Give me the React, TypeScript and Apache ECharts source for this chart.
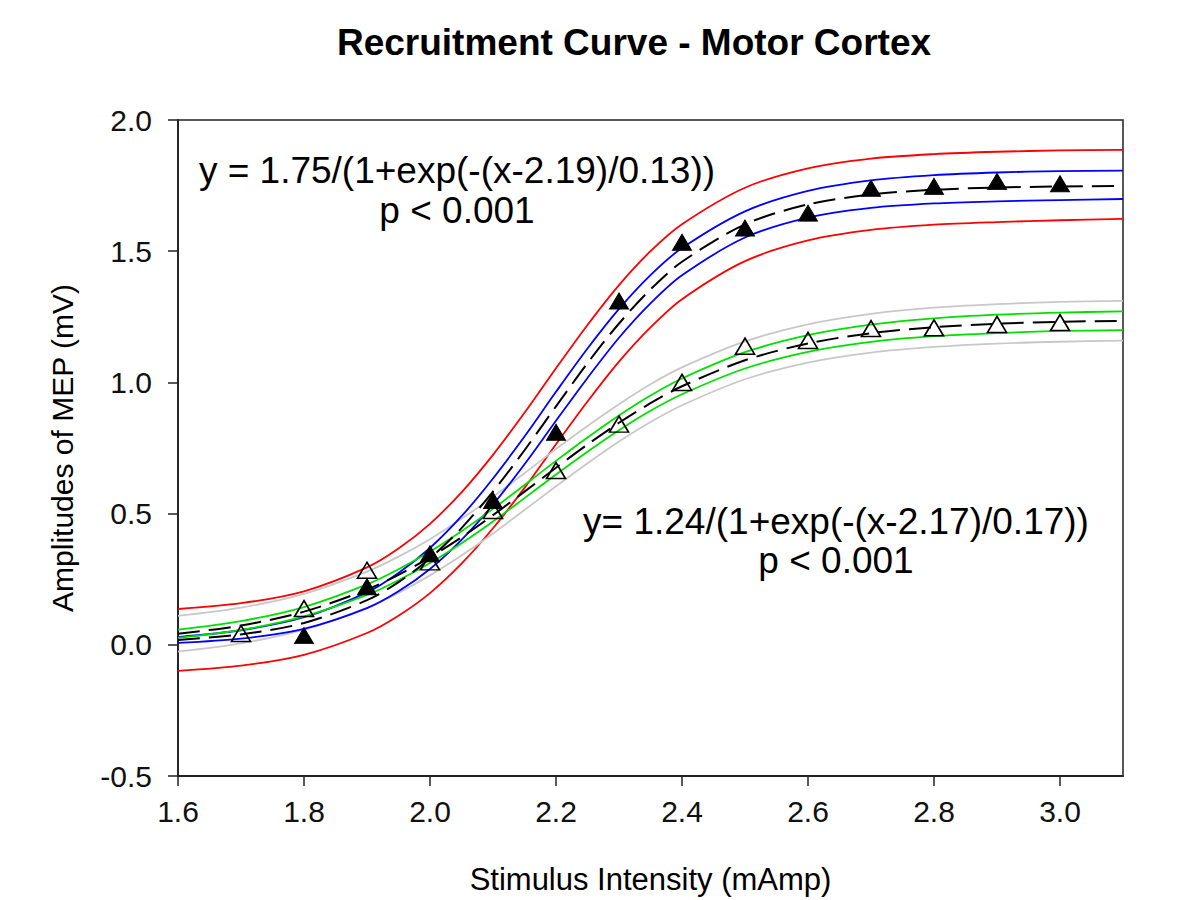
import React, { useEffect, useRef } from "react";
import * as echarts from "echarts";

// Shared x sampling for the fitted curves and their bands
const curveX = [1.6, 1.7, 1.8, 1.9, 1.95, 2.0, 2.05, 2.1, 2.15, 2.2, 2.25, 2.3, 2.35, 2.4, 2.5, 2.6, 2.7, 2.8, 2.9, 3.0, 3.1];

// Fit 1 (filled triangles) and bands
const fit1 = [0.0185, 0.0395, 0.083, 0.170, 0.2386, 0.3294, 0.4447, 0.5841, 0.7414, 0.9086, 1.0734, 1.2245, 1.3545, 1.4597, 1.6024, 1.6784, 1.7161, 1.7341, 1.7426, 1.7466, 1.7484];
const blueUpper = [0.0295, 0.0555, 0.105, 0.200, 0.274, 0.369, 0.490, 0.634, 0.794, 0.964, 1.129, 1.280, 1.409, 1.512, 1.652, 1.730, 1.770, 1.790, 1.800, 1.805, 1.807];
const blueLower = [0.0075, 0.0235, 0.061, 0.140, 0.204, 0.289, 0.400, 0.534, 0.688, 0.854, 1.017, 1.170, 1.301, 1.408, 1.552, 1.628, 1.665, 1.682, 1.690, 1.695, 1.699];
const redUpper = [0.1365, 0.1585, 0.204, 0.295, 0.367, 0.461, 0.581, 0.724, 0.884, 1.054, 1.219, 1.371, 1.500, 1.603, 1.742, 1.816, 1.853, 1.870, 1.879, 1.884, 1.886];
const redLower = [-0.0995, -0.0795, -0.038, 0.045, 0.111, 0.197, 0.309, 0.444, 0.598, 0.764, 0.927, 1.079, 1.2095, 1.317, 1.462, 1.541, 1.581, 1.601, 1.611, 1.618, 1.623];

// Fit 2 (open triangles) and bands
const fit2 = [0.0419, 0.0735, 0.1264, 0.2104, 0.2668, 0.3335, 0.4098, 0.4941, 0.5836, 0.6747, 0.7633, 0.8461, 0.9206, 0.9853, 1.0844, 1.1485, 1.1875, 1.2102, 1.2233, 1.2307, 1.2348];
const greenUpper = [0.058, 0.0905, 0.144, 0.230, 0.288, 0.3555, 0.433, 0.518, 0.609, 0.701, 0.790, 0.874, 0.950, 1.015, 1.115, 1.180, 1.220, 1.244, 1.258, 1.266, 1.271];
const greenLower = [0.026, 0.0565, 0.108, 0.190, 0.246, 0.3115, 0.387, 0.470, 0.559, 0.649, 0.736, 0.818, 0.892, 0.955, 1.053, 1.1165, 1.1545, 1.176, 1.188, 1.196, 1.199];
const grayUpper = [0.110, 0.1415, 0.194, 0.279, 0.336, 0.4025, 0.480, 0.564, 0.654, 0.746, 0.834, 0.917, 0.993, 1.057, 1.156, 1.2215, 1.2615, 1.285, 1.298, 1.307, 1.311];
const grayLower = [-0.026, 0.0055, 0.058, 0.141, 0.198, 0.2645, 0.340, 0.424, 0.514, 0.604, 0.692, 0.775, 0.849, 0.913, 1.012, 1.0755, 1.1135, 1.135, 1.148, 1.155, 1.159];

// Observed data points
const filledX = [1.8, 1.9, 2.0, 2.1, 2.2, 2.3, 2.4, 2.5, 2.6, 2.7, 2.8, 2.9, 3.0];
const filledY = [0.035, 0.221, 0.347, 0.55, 0.81, 1.31, 1.534, 1.588, 1.645, 1.74, 1.747, 1.766, 1.757];
const openX = [1.7, 1.8, 1.9, 2.0, 2.1, 2.2, 2.3, 2.4, 2.5, 2.6, 2.7, 2.8, 2.9, 3.0];
const openY = [0.043, 0.138, 0.284, 0.316, 0.512, 0.664, 0.841, 1.0, 1.138, 1.16, 1.205, 1.208, 1.221, 1.228];

const titleText = "Recruitment Curve - Motor Cortex";
const xName = "Stimulus Intensity (mAmp)";
const yName = "Amplitudes of MEP (mV)";
const eq1 = "y = 1.75/(1+exp(-(x-2.19)/0.13))";
const eq2 = "y= 1.24/(1+exp(-(x-2.17)/0.17))";
const pText = "p < 0.001";

const FONT = "Liberation Sans, Arial, sans-serif";

const pairs = (xs: number[], ys: number[]) => xs.map((x, i) => [x, ys[i]]);

const curve = (name: string, ys: number[], color: string, dashed = false, z = 2) => ({
  name,
  type: "line",
  data: pairs(curveX, ys),
  smooth: 0.3,
  showSymbol: false,
  symbol: "none",
  z,
  lineStyle: { color, width: dashed ? 2 : 1.8, type: dashed ? [22, 9] : "solid" },
  silent: true,
});

export default function App() {
  const ref = useRef<HTMLDivElement>(null);
  useEffect(() => {
    if (!ref.current) return;
    const chart = echarts.init(ref.current, undefined, { renderer: "svg" });
    chart.setOption({
      animation: false,
      backgroundColor: "#ffffff",
      title: {
        text: titleText,
        left: 629,
        textAlign: "center",
        top: 19,
        textStyle: { fontFamily: FONT, fontSize: 37, fontWeight: "bold", color: "#000" },
      },
      grid: {
        left: 178,
        right: 77,
        top: 120,
        bottom: 122,
        show: true,
        borderColor: "#222",
        borderWidth: 1.5,
        backgroundColor: "transparent",
      },
      xAxis: {
        type: "value",
        min: 1.6,
        max: 3.1,
        interval: 0.2,
        name: xName,
        nameLocation: "middle",
        nameGap: 88,
        nameTextStyle: { fontFamily: FONT, fontSize: 31, color: "#000" },
        axisLine: { show: true, onZero: false, lineStyle: { color: "#222", width: 1.8 } },
        axisTick: { show: true, inside: false, length: 10, lineStyle: { color: "#222", width: 1.5 } },
        axisLabel: {
          fontFamily: FONT,
          fontSize: 30,
          color: "#111",
          margin: 20,
          showMaxLabel: false,
          formatter: (v: number) => v.toFixed(1),
        },
        splitLine: { show: false },
      },
      yAxis: {
        type: "value",
        min: -0.5,
        max: 2.0,
        interval: 0.5,
        name: yName,
        nameLocation: "middle",
        nameGap: 101,
        nameRotate: 90,
        nameTextStyle: { fontFamily: FONT, fontSize: 30, color: "#000" },
        axisLine: { show: true, onZero: false, lineStyle: { color: "#222", width: 1.8 } },
        axisTick: { show: true, inside: false, length: 10, lineStyle: { color: "#222", width: 1.5 } },
        axisLabel: {
          fontFamily: FONT,
          fontSize: 30,
          color: "#111",
          margin: 26,
          formatter: (v: number) => v.toFixed(1),
        },
        splitLine: { show: false },
      },
      series: [
        curve("Prediction band 1 upper", redUpper, "#ff0000"),
        curve("Prediction band 1 lower", redLower, "#ff0000"),
        curve("Prediction band 2 upper", grayUpper, "#c8c8c8"),
        curve("Prediction band 2 lower", grayLower, "#c8c8c8"),
        curve("Confidence band 1 upper", blueUpper, "#0000ff"),
        curve("Confidence band 1 lower", blueLower, "#0000ff"),
        curve("Confidence band 2 upper", greenUpper, "#00e000"),
        curve("Confidence band 2 lower", greenLower, "#00e000"),
        curve("Fit 1", fit1, "#000000", true, 3),
        curve("Fit 2", fit2, "#000000", true, 3),
        {
          name: "Data 1",
          type: "scatter",
          data: pairs(filledX, filledY),
          symbol: "triangle",
          symbolSize: [19, 16],
          z: 5,
          itemStyle: { color: "#000000", borderColor: "#000", borderWidth: 1, opacity: 1 },
          silent: true,
        },
        {
          name: "Data 2",
          type: "scatter",
          data: pairs(openX, openY),
          symbol: "triangle",
          symbolSize: [19, 16],
          z: 5,
          itemStyle: { color: "rgba(255,255,255,0)", borderColor: "#000", borderWidth: 1.6, opacity: 1 },
          silent: true,
        },
      ],
      graphic: [
        {
          type: "text",
          x: 457,
          y: 170,
          style: { text: eq1, font: `37px ${FONT}`, fill: "#000", textAlign: "center", textVerticalAlign: "middle", verticalAlign: "middle" },
        },
        {
          type: "text",
          x: 457,
          y: 210,
          style: { text: pText, font: `37px ${FONT}`, fill: "#000", textAlign: "center", textVerticalAlign: "middle", verticalAlign: "middle" },
        },
        {
          type: "text",
          x: 836,
          y: 521,
          style: { text: eq2, font: `37px ${FONT}`, fill: "#000", textAlign: "center", textVerticalAlign: "middle", verticalAlign: "middle" },
        },
        {
          type: "text",
          x: 836,
          y: 560,
          style: { text: pText, font: `37px ${FONT}`, fill: "#000", textAlign: "center", textVerticalAlign: "middle", verticalAlign: "middle" },
        },
      ],
    });
    return () => chart.dispose();
  }, []);
  return (
    <div
      ref={ref}
      style={{ position: "fixed", left: 0, top: 0, width: 1200, height: 900, background: "#fff" }}
    />
  );
}
